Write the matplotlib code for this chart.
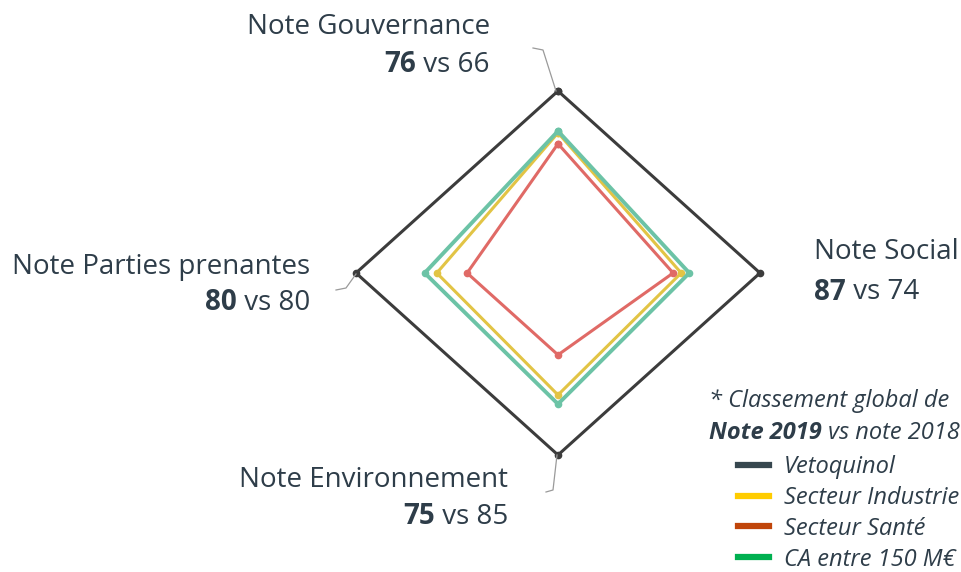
import numpy as np
import matplotlib
matplotlib.use("Agg")
import matplotlib.pyplot as plt
from matplotlib.lines import Line2D

plt.rcParams['font.family'] = ['Open Sans', 'DejaVu Sans']

# axes order: Gouvernance (top), Social (right), Environnement (bottom), Parties prenantes (left)
axis_names = ["Note Gouvernance", "Note Social", "Note Environnement", "Note Parties prenantes"]
notes_2019 = [76, 87, 75, 80]
notes_2018 = [66, 74, 85, 80]

vetoquinol = [100, 100, 100, 100]
industrie = [77, 61, 67, 60]
sante = [71, 57, 45, 45]
ca_150 = [78, 65, 72, 66]

series_names = ["Vetoquinol", "Secteur Industrie", "Secteur Santé", "CA entre 150 M€"]
legend_colors = ["#37474f", "#ffcc00", "#c0450a", "#00b050"]
line_colors = ["#3c3c3c", "#e2c445", "#e06a66", "#6cc3a6"]

W, H = 962, 572
fig = plt.figure(figsize=(W / 100, H / 100), dpi=100)
ax = fig.add_axes([0, 0, 1, 1])
ax.set_xlim(-558 / 202 * 100, (W - 558) / 202 * 100)
ax.set_ylim(-(H - 273) / 182 * 100, 273 / 182 * 100)
ax.axis('off')

angles = np.deg2rad([90, 0, 270, 180])


def polygon(vals):
    v = np.array(vals + vals[:1], dtype=float)
    a = np.concatenate([angles, angles[:1]])
    return v * np.cos(a), v * np.sin(a)


for vals, col, lw in [(industrie, line_colors[1], 2.2),
                      (ca_150, line_colors[3], 2.8),
                      (sante, line_colors[2], 2.2),
                      (vetoquinol, line_colors[0], 2.2)]:
    x, y = polygon(vals)
    ax.plot(x, y, color=col, lw=lw, marker='o', ms=4.5, solid_joinstyle='miter')


def px(x, y):
    return x / W, 1 - y / H


# leader lines
grey = "#9a9a9a"
for pts in [[(556, 91), (543, 50), (533, 48)],
            [(356, 274), (346, 288), (336, 290)],
            [(557, 455), (553, 490), (546, 492)]]:
    xs, ys = zip(*[px(*p) for p in pts])
    fig.add_artist(Line2D(xs, ys, color=grey, lw=0.9))

text_col = "#2e3d49"
fs = 20


def label(name, n19, n18, x, y1, y2, ha):
    tx, ty = px(x, y1)
    fig.text(tx, ty, name, ha=ha, va='center', fontsize=fs, color=text_col)
    tx, ty = px(x, y2)
    if ha == 'right':
        t = fig.text(tx, ty, f" vs {n18}", ha='right', va='center', fontsize=fs, color=text_col)
        fig.add_artist(plt.Annotation(str(n19), xy=(0, 0.5), xycoords=t, ha='right', va='center',
                                      fontsize=fs, color=text_col, fontweight='bold'))
    else:
        t = fig.text(tx, ty, str(n19), ha='left', va='center', fontsize=fs, color=text_col,
                     fontweight='bold')
        fig.add_artist(plt.Annotation(f" vs {n18}", xy=(1, 0.5), xycoords=t, ha='left', va='center',
                                      fontsize=fs, color=text_col))


label(axis_names[0], notes_2019[0], notes_2018[0], 490, 27, 65, 'right')
label(axis_names[3], notes_2019[3], notes_2018[3], 310, 267, 303, 'right')
label(axis_names[2], notes_2019[2], notes_2018[2], 508, 480, 517, 'right')
label(axis_names[1], notes_2019[1], notes_2018[1], 814, 252, 292, 'left')

# legend block
lfs = 17
tx, ty = px(709, 401)
fig.text(tx, ty, "* Classement global de", ha='left', va='center', fontsize=lfs,
         style='italic', color=text_col)
tx, ty = px(709, 433)
t = fig.text(tx, ty, "Note 2019", ha='left', va='center', fontsize=lfs, style='italic',
             fontweight='bold', color=text_col)
fig.add_artist(plt.Annotation(" vs note 2018", xy=(1, 0.5), xycoords=t, ha='left', va='center',
                              fontsize=lfs, style='italic', color=text_col))

handles = [Line2D([], [], color=c, lw=4.5) for c in legend_colors]
leg = fig.legend(handles, series_names, loc='upper left', bbox_to_anchor=(738 / W, 1 - 455 / H),
                 frameon=False, prop={'size': lfs, 'style': 'italic'}, handlelength=1.3,
                 handletextpad=0.65, labelspacing=0.29, borderaxespad=0, borderpad=0)
for txt in leg.get_texts():
    txt.set_color(text_col)

fig.savefig("out.png", dpi=100)
